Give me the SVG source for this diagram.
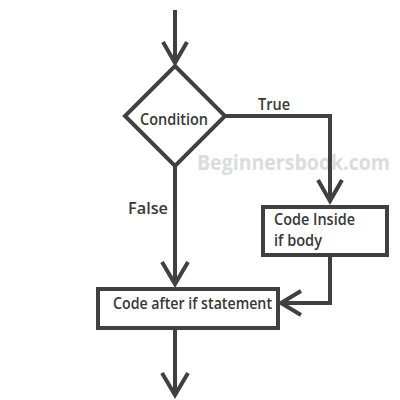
<svg xmlns="http://www.w3.org/2000/svg" width="400" height="400" viewBox="0 0 400 400">
<style>
.ln{fill:none;stroke:#404040;stroke-width:4;stroke-linejoin:miter}
.ah{fill:none;stroke:#404040;stroke-width:4;stroke-linecap:butt;stroke-linejoin:miter}
.nd{fill:#fff;stroke:#404040;stroke-width:4}
.t{font-family:"Open Sans","Noto Sans",sans-serif;font-weight:600;font-size:16px;fill:#383838}
.wm{font-family:"Open Sans","Noto Sans",sans-serif;font-weight:700;font-size:21px;fill:#dcdcdc}
</style>
<rect width="400" height="400" fill="#fff"/>
<text class="wm" x="197" y="170" textLength="193" lengthAdjust="spacingAndGlyphs">Beginnersbook.com</text>
<g id="connectors">
<line class="ln" x1="175" y1="10" x2="175" y2="63"/>
<polyline class="ah" points="163,42 175,63 187,42"/>
<polyline class="ln" points="223,116 330,116 330,201"/>
<polyline class="ah" points="318,180 330,201 342,180"/>
<line class="ln" x1="175" y1="166" x2="175" y2="284"/>
<polyline class="ah" points="162,262 175,284 188,262"/>
<polyline class="ln" points="330,256 330,303 282,303"/>
<polyline class="ah" points="301,291 281,303 301,315"/>
<line class="ln" x1="175" y1="329" x2="175" y2="395"/>
<polyline class="ah" points="162,373 175,395 188,373"/>
<text class="t" x="258" y="110" textLength="32" lengthAdjust="spacingAndGlyphs">True</text>
<text class="t" x="128" y="214" textLength="40" lengthAdjust="spacingAndGlyphs">False</text>
</g>
<g id="condition">
<polygon class="nd" points="175,66 225,116 175,166 125,116"/>
<text class="t" x="140" y="125" textLength="68" lengthAdjust="spacingAndGlyphs">Condition</text>
</g>
<g id="body">
<rect class="nd" x="263" y="207" width="124" height="48"/>
<text class="t" x="274" y="225" textLength="81" lengthAdjust="spacingAndGlyphs">Code Inside</text>
<text class="t" x="274" y="246" textLength="48" lengthAdjust="spacingAndGlyphs">if body</text>
</g>
<g id="after">
<rect class="nd" x="98" y="289" width="180" height="39"/>
<text class="t" x="113" y="309" textLength="159" lengthAdjust="spacingAndGlyphs">Code after if statement</text>
</g>
</svg>
